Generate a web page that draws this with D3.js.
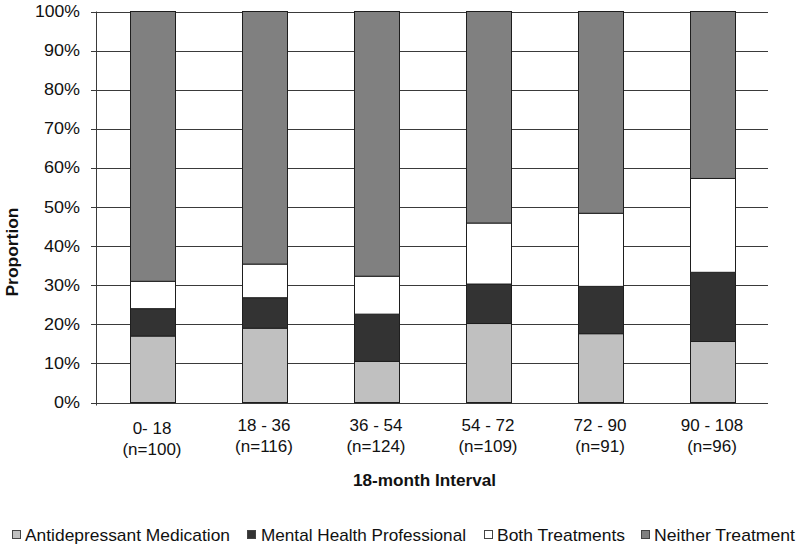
<!DOCTYPE html>
<html>
<head>
<meta charset="utf-8">
<script src="https://cdn.jsdelivr.net/npm/d3@7"></script>
<style>
  html, body { margin: 0; padding: 0; background: #fff; }
  svg { display: block; font-family: "Liberation Sans", Arial, sans-serif; }
</style>
</head>
<body>
<svg id="chart" width="800" height="550"></svg>
<script>
// ---- Data (percent of patients per interval) ----
const intervals = ["0- 18", "18 - 36", "36 - 54", "54 - 72", "72 - 90", "90 - 108"];
const sampleSizes = ["(n=100)", "(n=116)", "(n=124)", "(n=109)", "(n=91)", "(n=96)"];
const antidepressant = [17.0, 19.0, 10.5, 20.2, 17.6, 15.6];
const mentalHealth   = [7.0, 7.8, 12.1, 10.1, 12.1, 17.7];
const bothTreatments = [7.0, 8.6, 9.7, 15.6, 18.7, 24.0];
const neither        = [69.0, 64.6, 67.7, 54.1, 51.6, 42.7];
const seriesNames = ["Antidepressant Medication", "Mental Health Professional", "Both Treatments", "Neither Treatment"];
const seriesColors = ["#c0c0c0", "#333333", "#ffffff", "#808080"];
const yTicks = [0, 10, 20, 30, 40, 50, 60, 70, 80, 90, 100];
const yAxisTitle = "Proportion";
const xAxisTitle = "18-month Interval";

// ---- Layout ----
const svg = d3.select("#chart");
const plot = { left: 96, right: 768, top: 11.5, bottom: 402.5 };

const rows = intervals.map((c, i) => ({
  cat: c,
  s0: antidepressant[i],
  s1: mentalHealth[i],
  s2: bothTreatments[i],
  s3: neither[i]
}));
const keys = ["s0", "s1", "s2", "s3"];
const stacked = d3.stack().keys(keys)(rows);

const x = d3.scaleBand().domain(intervals).range([plot.left, plot.right])
  .paddingInner(0.6).paddingOuter(0.3);
const y = d3.scaleLinear().domain([0, 100]).range([plot.bottom, plot.top]);

// gridlines
svg.append("g").selectAll("line").data(yTicks).join("line")
  .attr("x1", plot.left - 5).attr("x2", plot.right)
  .attr("y1", d => Math.round(y(d)) + 0.5).attr("y2", d => Math.round(y(d)) + 0.5)
  .attr("stroke", "#3a3a3a").attr("stroke-width", 1);

// left axis line
svg.append("line")
  .attr("x1", plot.left + 0.5).attr("x2", plot.left + 0.5)
  .attr("y1", plot.top).attr("y2", plot.bottom + 3)
  .attr("stroke", "#3a3a3a");

// y tick labels
svg.append("g").selectAll("text").data(yTicks).join("text")
  .attr("x", 80).attr("y", d => y(d))
  .attr("text-anchor", "end").attr("dominant-baseline", "central")
  .attr("font-size", 16).attr("fill", "#111")
  .attr("textLength", d => d === 100 ? 45 : (d === 0 ? 26 : 36))
  .attr("lengthAdjust", "spacingAndGlyphs")
  .text(d => d + "%");

// bars
svg.append("g").selectAll("g").data(stacked).join("g")
  .attr("fill", (d, i) => seriesColors[i])
  .selectAll("rect").data(d => d).join("rect")
  .attr("x", d => Math.round(x(d.data.cat)) + 0.5)
  .attr("width", Math.round(x.bandwidth()))
  .attr("y", d => y(d[1]))
  .attr("height", d => y(d[0]) - y(d[1]))
  .attr("stroke", "#1e1e1e").attr("stroke-width", 1);

// x labels
const xl = svg.append("g");
xl.selectAll("text.cat").data(intervals).join("text")
  .attr("class", "cat")
  .attr("x", d => x(d) + x.bandwidth() / 2)
  .attr("y", (d, i) => i === 0 ? 428 : 425)
  .attr("text-anchor", "middle").attr("dominant-baseline", "central")
  .attr("font-size", 17).attr("fill", "#111")
  .text(d => d);
xl.selectAll("text.n").data(sampleSizes).join("text")
  .attr("class", "n")
  .attr("x", (d, i) => x(intervals[i]) + x.bandwidth() / 2)
  .attr("y", (d, i) => i === 0 ? 449 : 446)
  .attr("text-anchor", "middle").attr("dominant-baseline", "central")
  .attr("font-size", 17).attr("fill", "#111")
  .text(d => d);

// axis titles
svg.append("text")
  .attr("transform", "translate(12,252) rotate(-90)")
  .attr("text-anchor", "middle").attr("dominant-baseline", "central")
  .attr("font-size", 16).attr("font-weight", "bold").attr("fill", "#111")
  .attr("textLength", 89).attr("lengthAdjust", "spacingAndGlyphs")
  .text(yAxisTitle);
svg.append("text")
  .attr("x", 424.5).attr("y", 480)
  .attr("text-anchor", "middle").attr("dominant-baseline", "central")
  .attr("font-size", 16).attr("font-weight", "bold").attr("fill", "#111")
  .attr("textLength", 143).attr("lengthAdjust", "spacingAndGlyphs")
  .text(xAxisTitle);

// legend
const legendX = [12, 247, 484, 641];
const legendTextX = [25, 261, 497, 654];
const legendTextW = [205, 205, 128, 141];
const lg = svg.append("g").selectAll("g").data(seriesNames).join("g");
lg.append("rect")
  .attr("x", (d, i) => legendX[i] + 0.5).attr("y", 530.5)
  .attr("width", 8).attr("height", 8)
  .attr("fill", (d, i) => seriesColors[i])
  .attr("stroke", "#444").attr("stroke-width", 1);
lg.append("text")
  .attr("x", (d, i) => legendTextX[i]).attr("y", 535)
  .attr("dominant-baseline", "central")
  .attr("font-size", 17).attr("fill", "#111")
  .attr("textLength", (d, i) => legendTextW[i]).attr("lengthAdjust", "spacingAndGlyphs")
  .text(d => d);
</script>
</body>
</html>
